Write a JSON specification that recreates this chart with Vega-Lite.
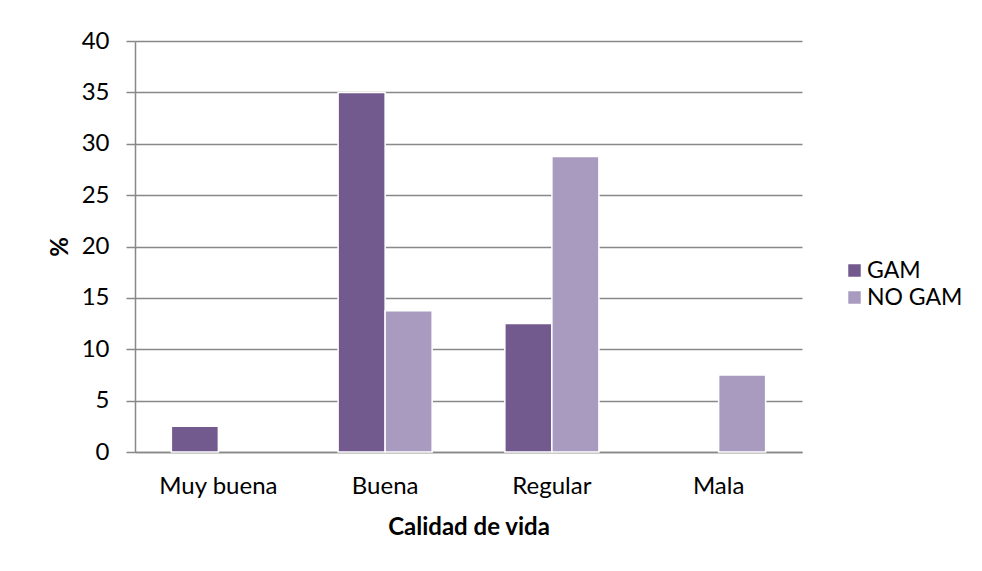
{
  "$schema": "https://vega.github.io/schema/vega-lite/v6.json",
  "autosize": "none",
  "width": 667,
  "height": 411,
  "padding": {"left": 135, "top": 41, "right": 180, "bottom": 119},
  "background": "white",
  "data": {
    "values": [
      {"calidad": "Muy buena", "grupo": "GAM", "pct": 2.5},
      {"calidad": "Buena", "grupo": "GAM", "pct": 35},
      {"calidad": "Buena", "grupo": "NO GAM", "pct": 13.75},
      {"calidad": "Regular", "grupo": "GAM", "pct": 12.5},
      {"calidad": "Regular", "grupo": "NO GAM", "pct": 28.75},
      {"calidad": "Mala", "grupo": "NO GAM", "pct": 7.5}
    ]
  },
  "mark": {"type": "bar", "stroke": "white", "strokeWidth": 1.5},
  "encoding": {
    "x": {
      "field": "calidad",
      "type": "nominal",
      "sort": ["Muy buena", "Buena", "Regular", "Mala"],
      "scale": {"paddingInner": 0.436, "paddingOuter": 0.218},
      "axis": {
        "title": "Calidad de vida",
        "labelAngle": 0,
        "ticks": false,
        "domain": true,
        "domainColor": "#888888",
        "domainWidth": 1.5,
        "labelPadding": 22,
        "titlePadding": 17,
        "grid": false
      }
    },
    "xOffset": {"field": "grupo", "type": "nominal", "sort": ["GAM", "NO GAM"]},
    "y": {
      "field": "pct",
      "type": "quantitative",
      "scale": {"domain": [0, 40], "nice": false},
      "axis": {
        "title": "%",
        "values": [0, 5, 10, 15, 20, 25, 30, 35, 40],
        "grid": true,
        "gridColor": "#888888",
        "gridWidth": 1.5,
        "domain": true,
        "domainColor": "#888888",
        "domainWidth": 1.5,
        "ticks": true,
        "tickSize": 9,
        "tickColor": "#888888",
        "tickWidth": 1.5,
        "labelPadding": 17,
        "titlePadding": 9
      }
    },
    "color": {
      "field": "grupo",
      "type": "nominal",
      "sort": ["GAM", "NO GAM"],
      "scale": {"domain": ["GAM", "NO GAM"], "range": ["#725a8f", "#a99bbf"]},
      "legend": {
        "title": null,
        "orient": "none",
        "legendX": 708,
        "legendY": 218,
        "symbolType": "square",
        "symbolSize": 156,
        "symbolStrokeWidth": 0,
        "labelOffset": 1,
        "rowPadding": 3,
        "padding": 0
      }
    }
  },
  "config": {
    "font": "Lato",
    "view": {"stroke": null},
    "axis": {
      "labelFont": "Lato",
      "labelFontSize": 24,
      "labelColor": "#000000",
      "titleFont": "Lato",
      "titleFontSize": 24,
      "titleFontWeight": "bold",
      "titleColor": "#000000"
    },
    "legend": {
      "labelFont": "Lato",
      "labelFontSize": 23,
      "labelColor": "#000000"
    }
  }
}
